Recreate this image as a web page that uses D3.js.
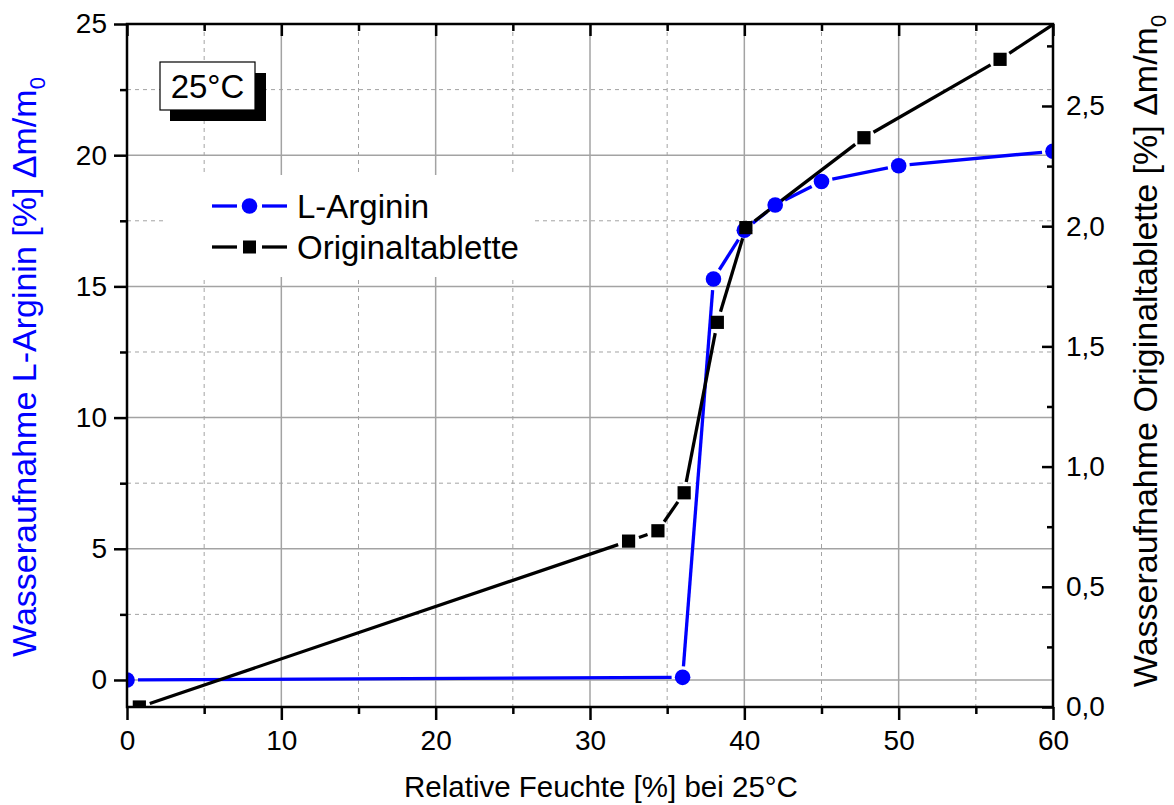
<!DOCTYPE html>
<html>
<head>
<meta charset="utf-8">
<script src="https://cdn.jsdelivr.net/npm/d3@7"></script>
<style>
  html, body { margin: 0; padding: 0; background: #fff; }
  svg { display: block; font-family: "Liberation Sans", Arial, sans-serif; }
</style>
</head>
<body>
<svg id="chart" width="1174" height="805"></svg>
<script>
// Relative humidity (%) at which each sample was weighed
const argininHumidity = [0, 36, 38, 40, 42, 45, 50, 60];
// Water uptake of L-Arginin, % Δm/m0 (left axis)
const argininUptake = [0.0, 0.1, 15.28, 17.14, 18.1, 19.0, 19.6, 20.15];

const tabletHumidity = [0.8, 32.5, 34.4, 36.1, 38.25, 40.1, 47.75, 56.57, 65];
// Water uptake of the original tablet, % Δm/m0 (right axis)
const tabletUptake = [0.0, 0.69, 0.733, 0.891, 1.60, 1.994, 2.368, 2.694, 3.05];

const xTicks = [0, 10, 20, 30, 40, 50, 60];
const xMinorTicks = [5, 15, 25, 35, 45, 55];
const leftTicks = [0, 5, 10, 15, 20, 25];
const leftMinorTicks = [2.5, 7.5, 12.5, 17.5, 22.5];
const rightTicks = [0, 0.5, 1.0, 1.5, 2.0, 2.5];
const rightMinorTicks = [0.25, 0.75, 1.25, 1.75, 2.25, 2.75];

const seriesNames = ["L-Arginin", "Originaltablette"];

const svg = d3.select("#chart");
const L = 127, R = 1053, T = 24, B = 707;

const x = d3.scaleLinear().domain([0, 60]).range([L, R]);
const yL = d3.scaleLinear().domain([-1.03, 25]).range([B, T]);
const yR = d3.scaleLinear().domain([0, 2.841]).range([B, T]);

const BLUE = "#0000ff";
const GRID = "#a3a3a3";

svg.append("defs").append("clipPath").attr("id", "plotClip")
  .append("rect").attr("x", L).attr("y", T).attr("width", R - L).attr("height", B - T);

// grid
const grid = svg.append("g");
grid.selectAll(".vmaj").data(xTicks.filter(d => d > 0 && d < 60)).join("line")
  .attr("x1", d => x(d)).attr("x2", d => x(d)).attr("y1", T).attr("y2", B)
  .attr("stroke", GRID).attr("stroke-width", 1.5);
grid.selectAll(".vmin").data(xMinorTicks).join("line")
  .attr("x1", d => x(d)).attr("x2", d => x(d)).attr("y1", T).attr("y2", B)
  .attr("stroke", GRID).attr("stroke-width", 1).attr("stroke-dasharray", "4,4");
grid.selectAll(".hmaj").data(leftTicks.filter(d => d < 25)).join("line")
  .attr("x1", L).attr("x2", R).attr("y1", d => yL(d)).attr("y2", d => yL(d))
  .attr("stroke", GRID).attr("stroke-width", 1.5);
grid.selectAll(".hmin").data(leftMinorTicks).join("line")
  .attr("x1", L).attr("x2", R).attr("y1", d => yL(d)).attr("y2", d => yL(d))
  .attr("stroke", GRID).attr("stroke-width", 1).attr("stroke-dasharray", "4,4");

// white legend backdrop hides the grid behind the entries
svg.append("rect").attr("x", 163).attr("y", 175).attr("width", 372).attr("height", 102).attr("fill", "#fff");

// line segments broken around each marker
function gappedSegments(xs, ys, ys_scale, gap) {
  const pts = xs.map((v, i) => [x(v), ys_scale(ys[i])]);
  const segs = [];
  for (let i = 0; i < pts.length - 1; i++) {
    const [x0, y0] = pts[i], [x1, y1] = pts[i + 1];
    const len = Math.hypot(x1 - x0, y1 - y0);
    if (len <= 2 * gap) continue;
    const ux = (x1 - x0) / len, uy = (y1 - y0) / len;
    segs.push([x0 + ux * gap, y0 + uy * gap, x1 - ux * gap, y1 - uy * gap]);
  }
  return segs;
}

const plot = svg.append("g").attr("clip-path", "url(#plotClip)");

plot.selectAll(".segA").data(gappedSegments(argininHumidity, argininUptake, yL, 11)).join("line")
  .attr("x1", d => d[0]).attr("y1", d => d[1]).attr("x2", d => d[2]).attr("y2", d => d[3])
  .attr("stroke", BLUE).attr("stroke-width", 3.3);
plot.selectAll(".segT").data(gappedSegments(tabletHumidity, tabletUptake, yR, 11)).join("line")
  .attr("x1", d => d[0]).attr("y1", d => d[1]).attr("x2", d => d[2]).attr("y2", d => d[3])
  .attr("stroke", "#000").attr("stroke-width", 3.3);

plot.selectAll(".ptA").data(argininHumidity).join("circle")
  .attr("cx", d => x(d)).attr("cy", (d, i) => yL(argininUptake[i])).attr("r", 7.8)
  .attr("fill", BLUE);
plot.selectAll(".ptT").data(tabletHumidity).join("rect")
  .attr("x", d => x(d) - 6.6).attr("y", (d, i) => yR(tabletUptake[i]) - 6.6)
  .attr("width", 13.2).attr("height", 13.2).attr("fill", "#000");

// axes
const fmtComma = d => d3.format(".1f")(d).replace(".", ",");
function styleAxis(g) {
  g.select(".domain").remove();
  g.selectAll(".tick line").attr("stroke", "#000").attr("stroke-width", 2.5);
  g.selectAll("text").attr("fill", "#000").attr("font-size", 28)
    .attr("font-family", "'Liberation Sans', Arial, sans-serif");
}

svg.append("g").attr("transform", `translate(0,${B})`)
  .call(d3.axisBottom(x).tickValues(xTicks).tickSize(13).tickPadding(10).tickFormat(d3.format("d")))
  .call(styleAxis);
svg.append("g").attr("transform", `translate(0,${B})`)
  .call(d3.axisBottom(x).tickValues(xMinorTicks).tickSize(7).tickFormat(""))
  .call(styleAxis);
svg.append("g").attr("transform", `translate(0,${T})`)
  .call(d3.axisTop(x).tickValues(xTicks).tickSize(-12).tickFormat(""))
  .call(styleAxis);
svg.append("g").attr("transform", `translate(0,${T})`)
  .call(d3.axisTop(x).tickValues(xMinorTicks).tickSize(-7).tickFormat(""))
  .call(styleAxis);
svg.append("g").attr("transform", `translate(${L},0)`)
  .call(d3.axisLeft(yL).tickValues(leftTicks).tickSize(13).tickPadding(7).tickFormat(d3.format("d")))
  .call(styleAxis);
svg.append("g").attr("transform", `translate(${L},0)`)
  .call(d3.axisLeft(yL).tickValues(leftMinorTicks).tickSize(7).tickFormat(""))
  .call(styleAxis);
svg.append("g").attr("transform", `translate(${R},0)`)
  .call(d3.axisRight(yR).tickValues(rightTicks).tickSize(-11).tickPadding(13).tickFormat(fmtComma))
  .call(styleAxis);
svg.append("g").attr("transform", `translate(${R},0)`)
  .call(d3.axisRight(yR).tickValues(rightMinorTicks).tickSize(-6).tickFormat(""))
  .call(styleAxis);

// frame
svg.append("rect").attr("x", L).attr("y", T).attr("width", R - L).attr("height", B - T)
  .attr("fill", "none").attr("stroke", "#000").attr("stroke-width", 2.5);

// axis titles
svg.append("text").attr("x", 601).attr("y", 797).attr("text-anchor", "middle")
  .attr("font-size", 29.5).attr("fill", "#000").text("Relative Feuchte [%] bei 25°C");

function sideTitle(xPos, yPos, label, color) {
  const t = svg.append("text")
    .attr("transform", `translate(${xPos},${yPos}) rotate(-90)`)
    .attr("text-anchor", "middle").attr("font-size", 34).attr("fill", color);
  t.append("tspan").text(label + " Δm/m");
  t.append("tspan").attr("font-size", 22).attr("dy", 9).text("0");
}
sideTitle(36, 367, "Wasseraufnahme L-Arginin [%]", BLUE);
sideTitle(1157, 351, "Wasseraufnahme Originaltablette [%]", "#000");

// legend
const legend = svg.append("g");
const legendRows = [
  { name: seriesNames[0], color: BLUE, y: 206, shape: "circle" },
  { name: seriesNames[1], color: "#000", y: 247, shape: "square" }
];
legendRows.forEach(r => {
  legend.append("line").attr("x1", 212).attr("x2", 237).attr("y1", r.y).attr("y2", r.y)
    .attr("stroke", r.color).attr("stroke-width", 3.3);
  legend.append("line").attr("x1", 262).attr("x2", 287).attr("y1", r.y).attr("y2", r.y)
    .attr("stroke", r.color).attr("stroke-width", 3.3);
  if (r.shape === "circle") {
    legend.append("circle").attr("cx", 249.5).attr("cy", r.y).attr("r", 7.8).attr("fill", r.color);
  } else {
    legend.append("rect").attr("x", 243).attr("y", r.y - 6.5).attr("width", 13).attr("height", 13).attr("fill", r.color);
  }
  legend.append("text").attr("x", 297).attr("y", r.y + 12).attr("font-size", 33)
    .attr("fill", "#000").text(r.name);
});

// temperature label with drop shadow
const tag = svg.append("g");
tag.append("rect").attr("x", 170).attr("y", 73).attr("width", 96).attr("height", 48).attr("fill", "#000");
tag.append("rect").attr("x", 160).attr("y", 62).attr("width", 95).attr("height", 48)
  .attr("fill", "#fff").attr("stroke", "#000").attr("stroke-width", 1.2);
tag.append("text").attr("x", 207.5).attr("y", 98).attr("text-anchor", "middle").attr("font-size", 33)
  .attr("fill", "#000").text("25°C");
</script>
</body>
</html>
